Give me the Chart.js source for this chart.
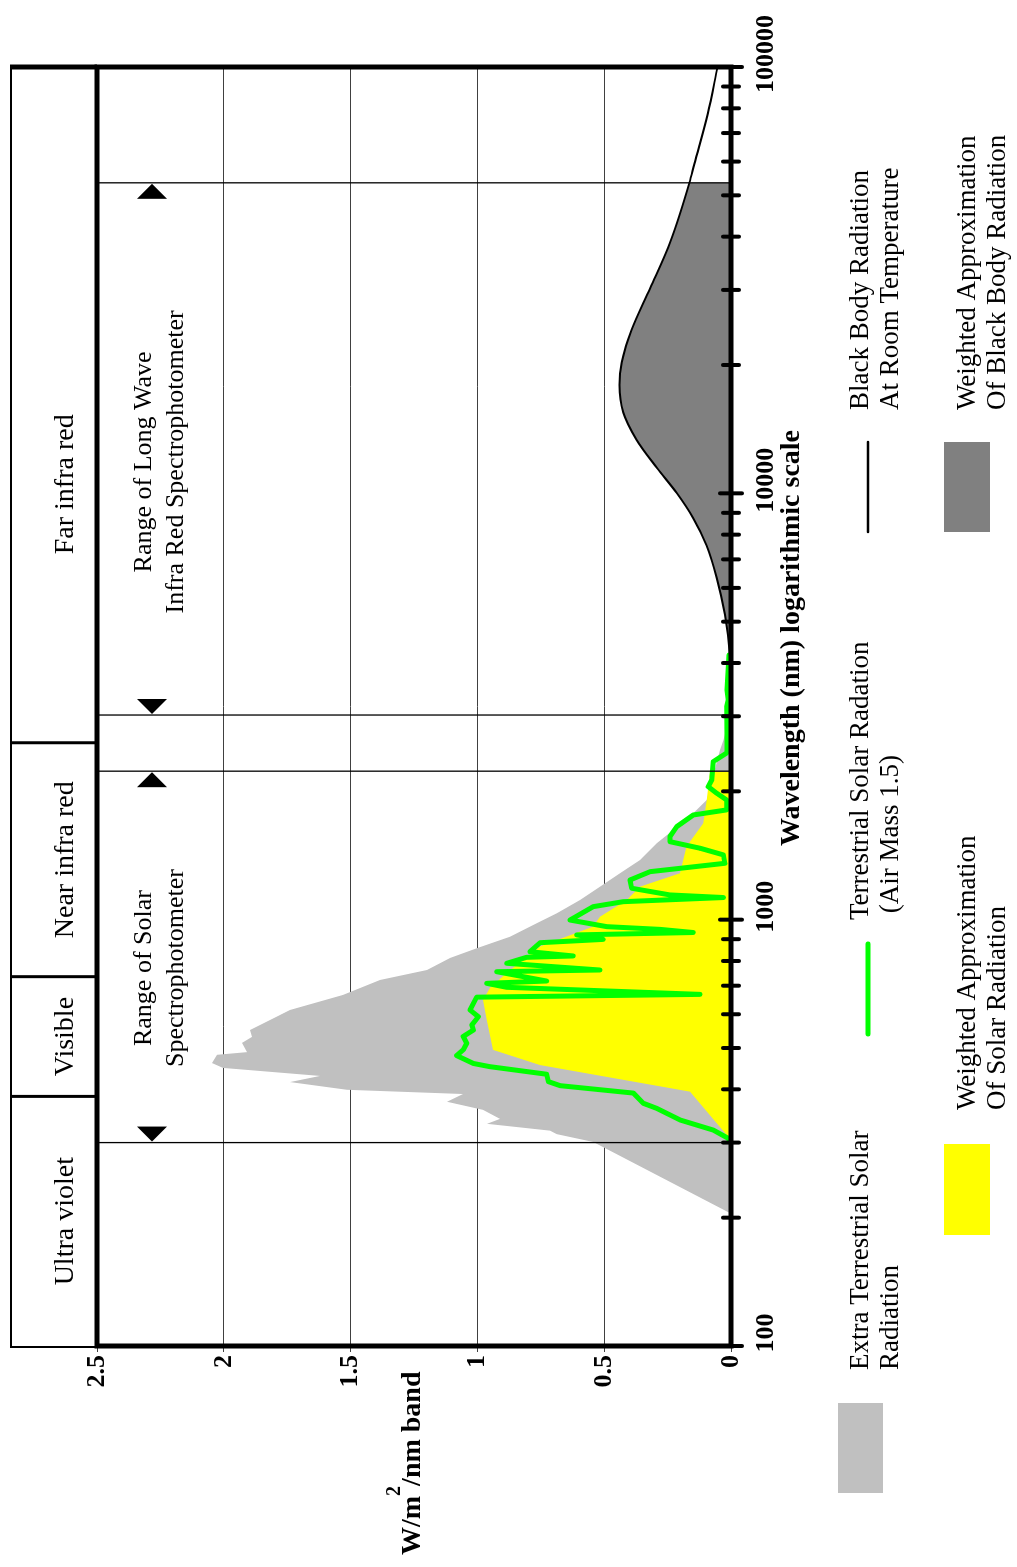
<!DOCTYPE html>
<html>
<head>
<meta charset="utf-8">
<script src="https://cdn.jsdelivr.net/npm/chart.js@4.4.1/dist/chart.umd.min.js"></script>
<style>
html, body { margin: 0; padding: 0; background: #fff; overflow: hidden; }
#wrap { position: absolute; left: 0; top: 0; width: 1567px; height: 1017px;
        transform-origin: 0 0; transform: translate(0, 1567px) rotate(-90deg); }
</style>
</head>
<body>
<div id="wrap"><canvas id="c" width="1567" height="1017"></canvas></div>
<script>
// extra terrestrial solar radiation (grey)
var etWl  = [200, 205, 301, 314, 320, 332, 341, 358, 374, 390, 399, 416, 430, 449, 461, 482, 489, 514, 531, 551,
             614, 666, 722, 762, 813, 857, 912, 981, 1035, 1112, 1195, 1285, 1380, 1511, 1623, 1777, 1909, 2501, 2639, 2836, 3160, 3458];
var etVal = [0, 0.004, 0.543, 0.687, 0.714, 0.962, 0.911, 0.978, 1.120, 1.057, 1.514, 1.739, 1.621, 2.003, 2.047, 2.027, 1.909, 1.928, 1.889, 1.897,
             1.739, 1.530, 1.384, 1.199, 1.108, 1.003, 0.871, 0.766, 0.687, 0.595, 0.517, 0.438, 0.359, 0.293, 0.228, 0.149, 0.096, 0.043, 0.030, 0.017, 0.004, 0];

// weighted approximation of solar radiation (yellow)
var wsWl  = [304, 395, 456, 495, 582, 648, 692, 750, 804, 865, 963, 1016, 1112, 1195, 1285, 1484, 1683, 1909, 2224];
var wsVal = [0, 0.162, 0.753, 0.938, 0.963, 0.978, 0.950, 0.884, 0.820, 0.753, 0.544, 0.517, 0.411, 0.359, 0.201, 0.175, 0.109, 0.096, 0.083];

// terrestrial solar radiation, air mass 1.5 (green)
var amWl  = [300, 307, 321, 339, 361, 371, 392, 408, 417, 434, 452, 460, 480, 495, 513, 532, 551, 566, 592, 614,
             658, 668, 694, 709, 718, 755, 762, 790, 816, 822, 841, 883, 899, 921, 933, 949, 963, 998, 1073, 1102,
             1127, 1143, 1185, 1239, 1296, 1356, 1419, 1471, 1524, 1566, 1653, 1760, 1809, 1909, 1979, 2051, 2127, 2348, 2460, 2639,
             3160, 3276, 3458, 4177];
var amVal = [0, 0.011, 0.070, 0.201, 0.293, 0.346, 0.385, 0.674, 0.720, 0.727, 0.950, 1.016, 1.082, 1.056, 1.042, 1.056, 1.016, 1.022, 0.996, 1.029,
             1.003, 0.122, 0.884, 0.963, 0.727, 0.924, 0.517, 0.884, 0.806, 0.622, 0.793, 0.753, 0.504, 0.608, 0.149, 0.280, 0.490, 0.635, 0.543, 0.425,
             0.030, 0.241, 0.392, 0.398, 0.319, 0.024, 0.030, 0.122, 0.241, 0.241, 0.214, 0.149, 0.017, 0.017, 0.056, 0.090, 0.076, 0.070, 0.017, 0.016,
             0.017, 0.011, 0.016, 0.008];

// black body radiation at room temperature (black line)
var bbWl  = [3300, 4150, 5190, 6330, 7540, 8750, 10020, 11490, 13340, 15480, 17960, 20300, 24200, 30250, 38800, 53500, 59100, 77600, 100000];
var bbVal = [0, 0.004, 0.024, 0.056, 0.096, 0.149, 0.214, 0.293, 0.372, 0.425, 0.440, 0.431, 0.392, 0.319, 0.240, 0.164, 0.145, 0.092, 0.053];
var bbWeightedMax = 53500;

// bands, instrument ranges, ticks
var bandNames = ['Ultra violet', 'Visible', 'Near infra red', 'Far infra red'];
var bandEdges = [385, 735, 2600];
var farIrLabelAt = 10500;
var solarRange = [300, 2230];
var longWaveRange = [3020, 53500];
var solarLabelAt = 770;
var longWaveLabelAt = 11850;
var xTickValues = [100, 200, 300, 400, 500, 600, 700, 800, 900,
                   1000, 2000, 3000, 4000, 5000, 6000, 7000, 8000, 9000,
                   10000, 20000, 30000, 40000, 50000, 60000, 70000, 80000, 90000, 100000];
var xTickLabels = [100, 1000, 10000, 100000];

function pts(wl, val) {
  return wl.map(function (w, i) { return { x: w, y: val[i] }; });
}

var bbFillWl = bbWl.filter(function (w) { return w <= bbWeightedMax; });
var bbFillVal = bbVal.slice(0, bbFillWl.length);

var serif = "'Liberation Serif', 'Times New Roman', serif";
Chart.defaults.font.family = serif;

var decor = {
  id: 'decor',
  afterDatasetsDraw: function (chart) {
    var ctx = chart.ctx, a = chart.chartArea, x = chart.scales.x;
    ctx.save();
    ctx.strokeStyle = '#000';
    ctx.fillStyle = '#000';

    // range boundaries
    ctx.lineWidth = 1.3;
    solarRange.concat(longWaveRange).forEach(function (w) {
      var p = x.getPixelForValue(w);
      ctx.beginPath(); ctx.moveTo(p, a.top); ctx.lineTo(p, a.bottom); ctx.stroke();
    });

    // arrow heads pointing at the boundaries
    function tri(p, dir) {
      ctx.beginPath();
      ctx.moveTo(p, 152);
      ctx.lineTo(p + dir * 15, 137);
      ctx.lineTo(p + dir * 15, 167);
      ctx.closePath();
      ctx.fill();
    }
    [solarRange, longWaveRange].forEach(function (r) {
      tri(x.getPixelForValue(r[0]) + 1, 1);
      tri(x.getPixelForValue(r[1]) - 1, -1);
    });

    // thick frame
    ctx.lineWidth = 5;
    ctx.strokeRect(a.left, a.top, a.right - a.left, a.bottom - a.top);
    ctx.beginPath(); ctx.moveTo(a.right, 10); ctx.lineTo(a.right, a.top); ctx.stroke();

    // tick dashes on the wavelength axis
    ctx.lineCap = 'round';
    ctx.lineWidth = 4;
    xTickValues.forEach(function (v) {
      var p = x.getPixelForValue(v);
      var major = xTickLabels.indexOf(v) >= 0;
      ctx.beginPath();
      ctx.moveTo(p, major ? 720 : 723);
      ctx.lineTo(p, major ? 742 : 739);
      ctx.stroke();
    });
    ctx.restore();
  },
  afterDraw: function (chart) {
    var ctx = chart.ctx, a = chart.chartArea, x = chart.scales.x;
    ctx.save();
    ctx.strokeStyle = '#000';
    ctx.fillStyle = '#000';

    // band header strip
    ctx.lineWidth = 2;
    ctx.strokeRect(a.left - 1, 11, a.right - a.left + 1, a.top - 11);
    ctx.lineWidth = 3;
    var edgesPx = bandEdges.map(function (w) { return x.getPixelForValue(w); });
    edgesPx.forEach(function (p) {
      ctx.beginPath(); ctx.moveTo(p, 10); ctx.lineTo(p, a.top); ctx.stroke();
    });
    var centers = [(a.left + edgesPx[0]) / 2, (edgesPx[0] + edgesPx[1]) / 2,
                   (edgesPx[1] + edgesPx[2]) / 2, x.getPixelForValue(farIrLabelAt)];
    ctx.font = '28px ' + serif;
    ctx.textAlign = 'center';
    ctx.textBaseline = 'alphabetic';
    bandNames.forEach(function (n, i) { ctx.fillText(n, centers[i], 73); });

    // range labels
    ctx.font = '26px ' + serif;
    var ps = x.getPixelForValue(solarLabelAt);
    ctx.fillText('Range of Solar', ps, 151);
    ctx.fillText('Spectrophotometer', ps, 183);
    var pl = x.getPixelForValue(longWaveLabelAt);
    ctx.fillText('Range of Long Wave', pl, 151);
    ctx.fillText('Infra Red Spectrophotometer', pl, 183);

    // wavelength tick labels
    ctx.font = 'bold 26px ' + serif;
    xTickLabels.forEach(function (v) {
      ctx.fillText(String(v), x.getPixelForValue(v) + 13, 773);
    });

    // axis titles
    ctx.textAlign = 'left';
    ctx.font = 'bold 28px ' + serif;
    ctx.fillText('Wavelength (nm) logarithmic scale', 721, 799);
    var tx = 12;
    ctx.fillText('W/m', tx, 420);
    tx += ctx.measureText('W/m').width;
    ctx.font = 'bold 20px ' + serif;
    ctx.fillText('2', tx, 400);
    tx += ctx.measureText('2').width;
    ctx.font = 'bold 28px ' + serif;
    ctx.fillText('/nm band', tx, 420);

    // legend
    ctx.fillStyle = '#c0c0c0'; ctx.fillRect(74, 838, 90, 45);
    ctx.fillStyle = '#ffff00'; ctx.fillRect(332, 944, 91, 46);
    ctx.fillStyle = '#808080'; ctx.fillRect(1035, 944, 90, 46);
    ctx.lineCap = 'round';
    ctx.strokeStyle = '#00ff00'; ctx.lineWidth = 5;
    ctx.beginPath(); ctx.moveTo(533, 868); ctx.lineTo(623, 868); ctx.stroke();
    ctx.strokeStyle = '#000'; ctx.lineWidth = 2.5;
    ctx.beginPath(); ctx.moveTo(1035, 868); ctx.lineTo(1125, 868); ctx.stroke();

    ctx.fillStyle = '#000';
    ctx.font = '27px ' + serif;
    ctx.fillText('Extra Terrestrial Solar', 197, 868);
    ctx.fillText('Radiation', 197, 898);
    ctx.fillText('Terrestrial Solar Radation', 647, 868);
    ctx.fillText(' (Air Mass 1.5)', 647, 898);
    ctx.fillText('Black Body Radiation', 1157, 868);
    ctx.fillText('At Room Temperature', 1157, 898);
    ctx.fillText('Weighted Approximation', 457, 975);
    ctx.fillText('Of Solar Radiation', 457, 1005);
    ctx.fillText('Weighted Approximation', 1157, 975);
    ctx.fillText('Of Black Body Radiation', 1157, 1005);
    ctx.restore();
  }
};

new Chart(document.getElementById('c'), {
  type: 'line',
  data: {
    datasets: [
      { label: 'Black Body Radiation', data: pts(bbWl, bbVal), borderColor: '#000', borderWidth: 2,
        cubicInterpolationMode: 'monotone', fill: false, pointRadius: 0, order: 1 },
      { label: 'Terrestrial Solar Radiation', data: pts(amWl, amVal), borderColor: '#00ff00', borderWidth: 5,
        borderJoinStyle: 'round', borderCapStyle: 'round', tension: 0, fill: false, pointRadius: 0, order: 2 },
      { label: 'Weighted Black Body', data: pts(bbFillWl, bbFillVal), borderColor: 'rgba(0,0,0,0)',
        backgroundColor: '#808080', cubicInterpolationMode: 'monotone', fill: 'origin', pointRadius: 0, order: 3 },
      { label: 'Weighted Solar', data: pts(wsWl, wsVal), borderColor: 'rgba(0,0,0,0)',
        backgroundColor: '#ffff00', tension: 0, fill: 'origin', pointRadius: 0, order: 4 },
      { label: 'Extra Terrestrial Solar Radiation', data: pts(etWl, etVal), borderColor: 'rgba(0,0,0,0)',
        backgroundColor: '#c0c0c0', tension: 0, fill: 'origin', pointRadius: 0, order: 5 }
    ]
  },
  options: {
    responsive: false,
    animation: false,
    devicePixelRatio: 1,
    layout: { padding: { left: 0, right: 67, top: 97, bottom: 0 } },
    plugins: { legend: { display: false }, tooltip: { enabled: false } },
    scales: {
      x: {
        type: 'logarithmic', min: 100, max: 100000, position: 'bottom',
        grid: { display: false }, border: { display: false }, ticks: { display: false },
        afterFit: function (s) { s.height = 286; }
      },
      y: {
        type: 'linear', min: 0, max: 2.5,
        grid: { color: '#404040', lineWidth: 1, tickLength: 6 },
        border: { display: false },
        ticks: { stepSize: 0.5, color: '#000', padding: 3, font: { size: 26, weight: 'bold', family: serif },
                 callback: function (v) { return String(v); } },
        afterFit: function (s) { s.width = 221; }
      }
    }
  },
  plugins: [decor]
});
</script>
</body>
</html>
